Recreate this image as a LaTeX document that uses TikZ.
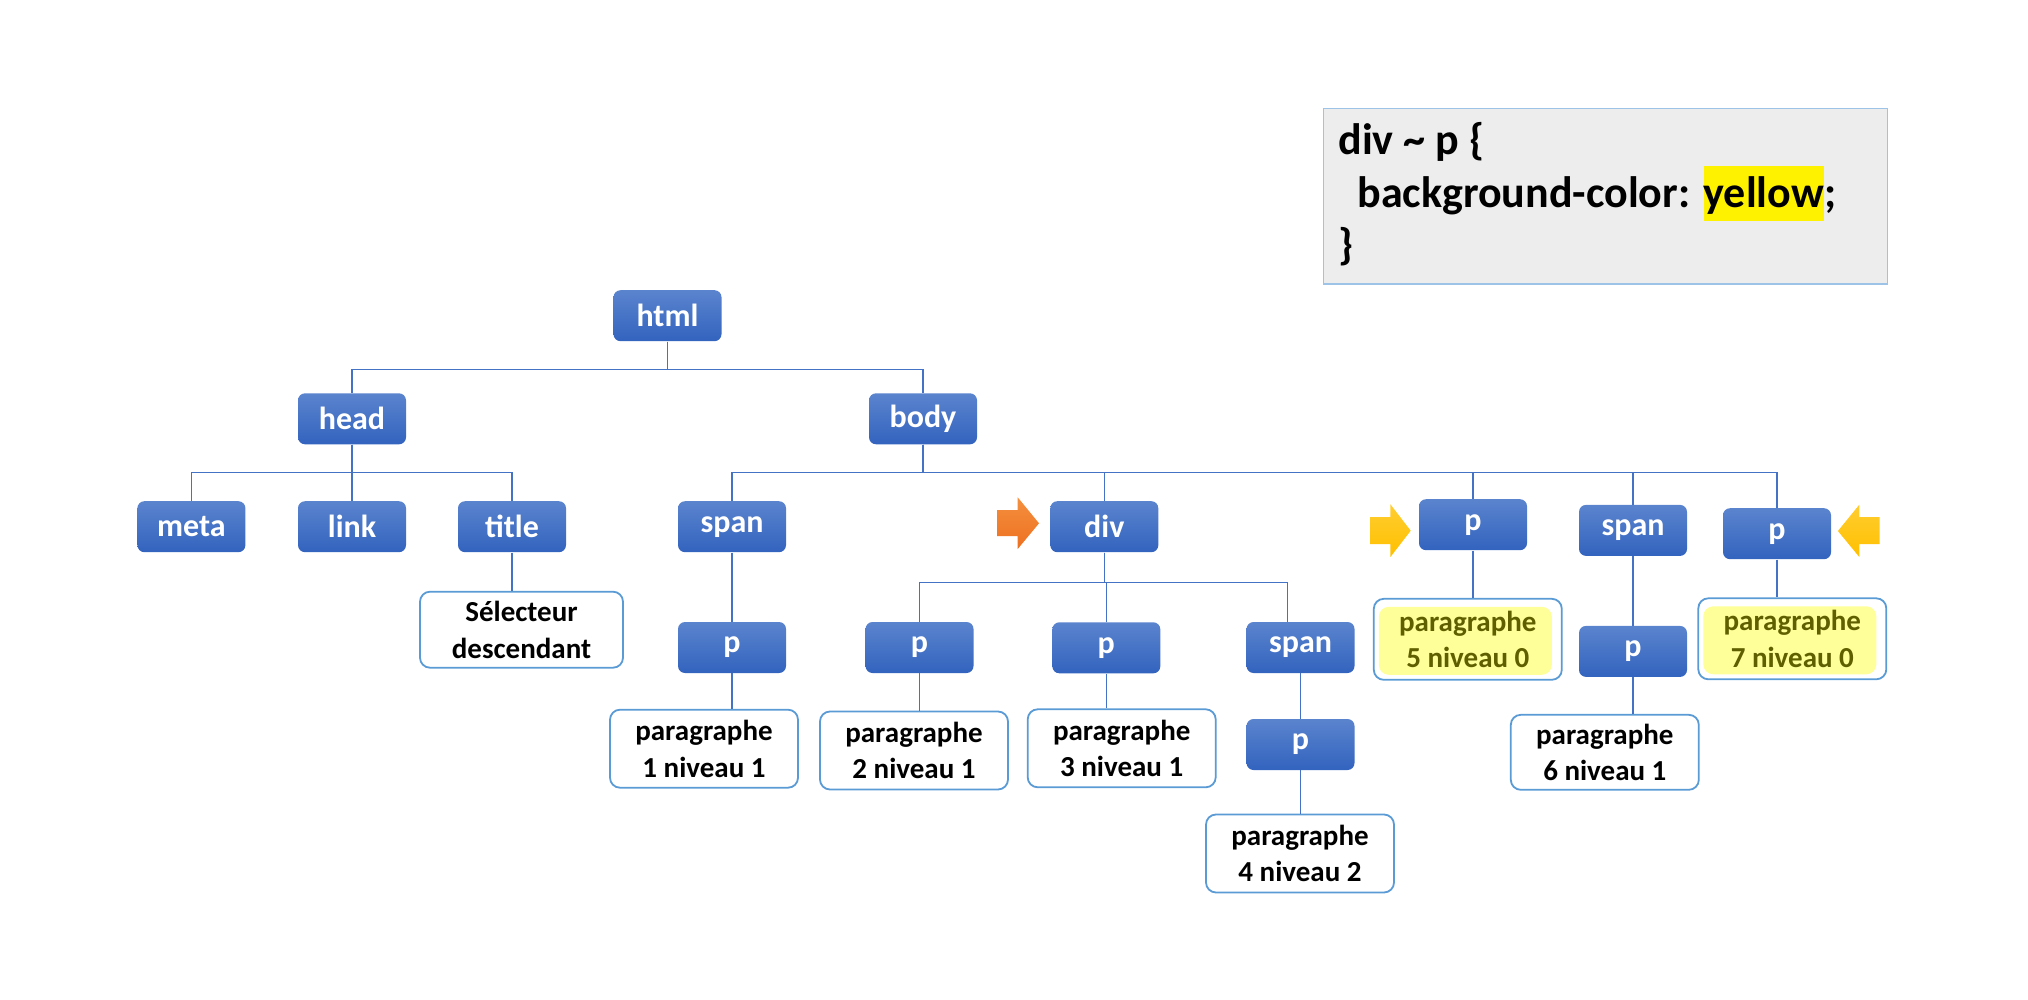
\documentclass[tikz,border=0pt]{standalone}
\usepackage{fontspec}
\setmainfont{Carlito}
\definecolor{boxtop}{HTML}{5B84CE}
\definecolor{boxbot}{HTML}{3263BE}
\definecolor{boxline}{HTML}{5B9BD5}
\definecolor{wire}{HTML}{4472C4}
\definecolor{hl}{HTML}{FFFF99}
\definecolor{olive}{HTML}{5F5F00}
\definecolor{codefill}{HTML}{EDEDED}
\definecolor{codeline}{HTML}{9DC3E6}
\definecolor{orgtop}{HTML}{F4903F}
\definecolor{orgbot}{HTML}{ED7020}
\definecolor{ylwtop}{HTML}{FFCD30}
\definecolor{ylwbot}{HTML}{FFC000}
\begin{document}
\begin{tikzpicture}[x=0.5pt,y=-0.5pt,
  tagbox/.style={rounded corners=3.5pt, top color=boxtop, bottom color=boxbot, text=white,
    font=\bfseries\fontsize{16}{19}\selectfont, minimum width=54pt, minimum height=25.5pt, inner sep=1pt},
  para/.style={draw=boxline, line width=0.9pt, rounded corners=5pt, fill=white, align=center,
    font=\bfseries\fontsize{14.5}{18.3}\selectfont, minimum width=94pt, minimum height=39pt, inner sep=1pt},
  hilite/.style={para, text=olive, path picture={\fill[hl] ([xshift=2.5pt,yshift=-4pt]path picture bounding box.north west) rectangle ([xshift=-5pt,yshift=2.5pt]path picture bounding box.south east);}},
  treeline/.style={draw=wire, line width=0.6pt},
  codetext/.style={anchor=base west, inner sep=0pt, font=\bfseries\fontsize{22}{26.5}\selectfont}]
\useasboundingbox (0,0) rectangle (2028,1000);
% code box
\node[draw=codeline, fill=codefill, line width=0.6pt, minimum width=281.9pt, minimum height=87.7pt] (code) at (1605.5,196.3) {};
\node[codetext] (line1) at (1338,155) {div \textasciitilde{} p \{};
\node[codetext] (line2) at (1357,208) {background-color: {\setlength{\fboxsep}{0pt}\colorbox{yellow}{\vrule height 21pt depth 6.5pt width 0pt yellow}};};
\node[codetext] (line3) at (1338,260) {\}};
% tree
\node[tagbox] (html) at (667.5,315.7) {html};
\node[tagbox] (head) at (352,418.8) {head};
\node[tagbox] (body) at (923,418.8) {body};
\node[tagbox] (meta) at (191.4,526.7) {meta};
\node[tagbox] (link) at (352,526.7) {link};
\node[tagbox] (title) at (512,526.7) {title};
\node[tagbox] (span1) at (732,526.7) {span};
\node[tagbox] (div) at (1104.3,526.7) {div};
\node[tagbox] (p5) at (1473,524.7) {p};
\node[tagbox] (span2) at (1633,530.4) {span};
\node[tagbox] (p7) at (1777,533.7) {p};
\node[tagbox] (p1) at (732,647.5) {p};
\node[tagbox] (p2) at (919.5,647.5) {p};
\node[tagbox] (p3) at (1106.3,647.8) {p};
\node[tagbox] (span3) at (1300.5,647.5) {span};
\node[tagbox] (p4) at (1300.5,744.5) {p};
\node[tagbox] (p6) at (1633,651.4) {p};
% texts
\node[para, minimum width=101.5pt, minimum height=38pt] (sel) at (521.5,629.7) {Sélecteur\\descendant};
\node[para] (para1) at (704,748.7) {paragraphe\\1 niveau 1};
\node[para] (para2) at (914,750.5) {paragraphe\\2 niveau 1};
\node[para] (para3) at (1121.7,748.3) {paragraphe\\3 niveau 1};
\node[para] (para4) at (1300,853.5) {paragraphe\\4 niveau 2};
\node[hilite, minimum height=40.5pt] (para5) at (1467.8,639.3) {paragraphe\\5 niveau 0};
\node[para, minimum height=37.5pt] (para6) at (1604.8,752.3) {paragraphe\\6 niveau 1};
\node[hilite, minimum height=40.5pt] (para7) at (1792.3,638.8) {paragraphe\\7 niveau 0};
% connectors
\draw[treeline] (html.south) -- ++(0,28) -| (head.north);
\draw[treeline] (html.south) -- ++(0,28) -| (body.north);
\foreach \c in {meta,link,title}
  \draw[treeline] (head.south) -- ++(0,28) -| (\c.north);
\foreach \c in {span1,div,p5,span2,p7}
  \draw[treeline] (body.south) -- ++(0,28) -| (\c.north);
\draw[treeline] (div.south) -- ++(0,30) -| (p2.north);
\draw[treeline] (div.south) -- ++(0,30) -| (p3.north);
\draw[treeline] (div.south) -- ++(0,30) -| ([xshift=-6.5pt]span3.north);
\draw[treeline] (span1) -- (p1);
\draw[treeline] (span2) -- (p6);
\draw[treeline] (span3) -- (p4);
\foreach \a/\b in {title/sel,p1/para1,p2/para2,p3/para3,p4/para4,p5/para5,p6/para6,p7/para7}
  \draw[treeline] (\a.south) -- (\a.south |- \b.north);
% arrows
\shade[top color=orgtop, bottom color=orgbot] (997,510) -- (1017.7,510) -- (1017.7,497.3) -- (1039,523.3) -- (1017.7,549) -- (1017.7,536) -- (997,536) -- cycle;
\shade[top color=ylwtop, bottom color=ylwbot] (1370,517) -- (1390.4,517) -- (1390.4,504.3) -- (1410.7,530.7) -- (1390.4,557) -- (1390.4,544) -- (1370,544) -- cycle;
\shade[top color=ylwtop, bottom color=ylwbot] (1879.6,517) -- (1859.3,517) -- (1859.3,504.7) -- (1837.9,531) -- (1859.3,557) -- (1859.3,544) -- (1879.6,544) -- cycle;
\end{tikzpicture}
\end{document}
